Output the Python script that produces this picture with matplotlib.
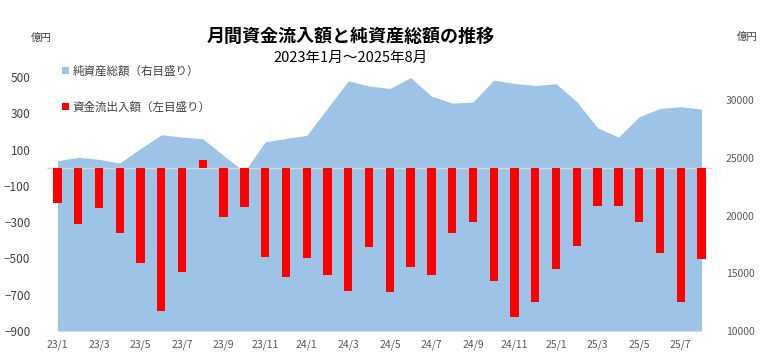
import numpy as np
import matplotlib.pyplot as plt
from matplotlib.patches import Patch

plt.rcParams['font.family'] = ['Noto Sans CJK JP', 'DejaVu Sans']

# months 2023/1 - 2025/8
months = ['23/1', '23/2', '23/3', '23/4', '23/5', '23/6', '23/7', '23/8',
          '23/9', '23/10', '23/11', '23/12', '24/1', '24/2', '24/3', '24/4',
          '24/5', '24/6', '24/7', '24/8', '24/9', '24/10', '24/11', '24/12',
          '25/1', '25/2', '25/3', '25/4', '25/5', '25/6', '25/7', '25/8']

# net inflow / outflow (left axis, 億円)
flows = [-195, -310, -220, -360, -525, -790, -575, 40,
         -270, -215, -490, -600, -500, -590, -680, -435,
         -685, -545, -590, -360, -300, -625, -825, -740,
         -560, -430, -210, -210, -300, -470, -740, -505]

# total net assets (right axis, 億円)
assets = [24750, 25040, 24870, 24550, 25800, 27000, 26800, 26650,
          25200, 23800, 26390, 26680, 26940, 29300, 31670, 31210,
          31010, 31950, 30350, 29740, 29830, 31730, 31440, 31270,
          31410, 29850, 27600, 26800, 28550, 29280, 29420, 29220]

area_color = '#9DC3E6'
bar_color = '#FF0000'

fig = plt.figure(figsize=(7.66, 3.59), dpi=100)
ax = fig.add_axes([0.0614, 0.078, 0.868, 0.7075])
ax2 = ax.twinx()

x = np.arange(len(months))

# area on right axis, drawn behind the bars
ax2.fill_between(x, 10000, assets, color=area_color, linewidth=0)
ax2.set_ylim(10000, 32000)
ax2.set_yticks([10000, 15000, 20000, 25000, 30000])

ax.set_zorder(ax2.get_zorder() + 1)
ax.patch.set_visible(False)
ax.bar(x, flows, width=0.4, color=bar_color, zorder=3)
ax.axhline(0, color='#d9d9d9', linewidth=1, zorder=2)
ax.set_ylim(-900, 500)
ax.set_yticks(np.arange(-900, 501, 200))
ax.set_xlim(-0.5, len(months) - 0.5)
ax.set_xticks(x[::2])
ax.set_xticklabels(months[::2])

for a in (ax, ax2):
    for s in a.spines.values():
        s.set_visible(False)
ax.tick_params(axis='y', length=0, pad=12, labelsize=8.5, labelcolor='#404040')
ax.tick_params(axis='x', length=0, pad=6, labelsize=7.5, labelcolor='#595959')
ax2.tick_params(axis='y', length=0, pad=10, labelsize=7.5, labelcolor='#595959')

fig.text(0.040, 0.893, '億円', fontsize=7.5, color='#404040', ha='left', va='center')
fig.text(0.962, 0.898, '億円', fontsize=7.5, color='#404040', ha='left', va='center')

fig.text(0.458, 0.898, '月間資金流入額と純資産総額の推移', fontsize=13,
         fontweight='bold', ha='center', va='center')
fig.text(0.458, 0.838, '2023年1月～2025年8月', fontsize=10.5,
         ha='center', va='center')

handles = [Patch(facecolor=area_color, edgecolor='none'),
           Patch(facecolor=bar_color, edgecolor='none')]
labels = ['純資産総額（右目盛り）', '資金流出入額（左目盛り）']
fig.legend(handles, labels, loc='upper left', bbox_to_anchor=(0.068, 0.849),
           frameon=False, fontsize=8.3, handlelength=0.6, handleheight=0.6,
           handletextpad=0.3, labelspacing=2.0, labelcolor='#404040')

fig.savefig('out.png', dpi=100)
